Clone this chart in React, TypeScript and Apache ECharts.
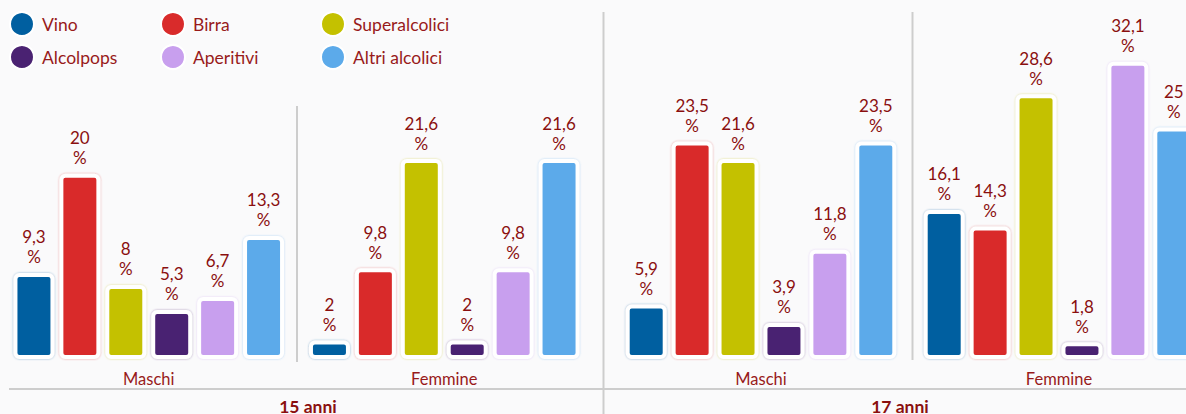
import React, { useEffect, useRef } from "react";
import * as echarts from "echarts";

const seriesNames = ["Vino", "Birra", "Superalcolici", "Alcolpops", "Aperitivi", "Altri alcolici"];
const seriesColors = ["#005fa0", "#d92b2b", "#c4c100", "#4a2272", "#c89fee", "#5caaea"];
const genderCategories = ["Maschi", "Femmine"];
const ageGroups = ["15 anni", "17 anni"];

// values per series: [Maschi, Femmine]
const values15 = [
  [9.3, 2],
  [20, 9.8],
  [8, 21.6],
  [5.3, 2],
  [6.7, 9.8],
  [13.3, 21.6],
];
const values17 = [
  [5.9, 16.1],
  [23.5, 14.3],
  [21.6, 28.6],
  [3.9, 1.8],
  [11.8, 32.1],
  [23.5, 25],
];

const RED = "#981a1a";
const DARK_RED = "#8a0f0f";
const FONT = "Lato, 'Noto Sans', sans-serif";

function hexToRgba(hex: string, a: number) {
  const n = parseInt(hex.slice(1), 16);
  return `rgba(${(n >> 16) & 255},${(n >> 8) & 255},${n & 255},${a})`;
}

export default function App() {
  const ref = useRef<HTMLDivElement>(null);
  useEffect(() => {
    if (!ref.current) return;
    const chart = echarts.init(ref.current, undefined, { renderer: "svg" });

    const legendPos = [
      { left: 9, top: 11 },
      { left: 160, top: 11 },
      { left: 320, top: 11 },
      { left: 9, top: 44 },
      { left: 160, top: 44 },
      { left: 320, top: 44 },
    ];

    const legends = seriesNames.map((name, i) => ({
      data: [name],
      left: legendPos[i].left,
      top: legendPos[i].top,
      icon: "circle",
      itemWidth: 24,
      itemHeight: 24,
      selectedMode: false,
      padding: 0,
      textStyle: { color: RED, fontSize: 17.5, fontFamily: FONT, padding: [0, 0, 0, 3] },
    }));

    const allValues = [values15, values17];
    const series: any[] = [];
    allValues.forEach((vals, gi) => {
      seriesNames.forEach((name, si) => {
        const c = seriesColors[si];
        series.push({
          type: "bar",
          name,
          xAxisIndex: gi,
          yAxisIndex: gi,
          data: vals[si],
          barWidth: 41,
          barGap: "12%",
          itemStyle: {
            color: c,
            borderColor: "#ffffff",
            borderWidth: 4,
            borderRadius: 4,
            shadowColor: hexToRgba(c, 0.45),
            shadowBlur: 2,
          },
          label: {
            show: true,
            position: "top",
            distance: 6,
            color: DARK_RED,
            fontSize: 17,
            lineHeight: 20,
            fontFamily: FONT,
            formatter: (p: any) => String(p.value).replace(".", ",") + "\n%",
          },
        });
      });
    });

    const lineStyle = { stroke: "#cdcdcd", lineWidth: 2 };

    chart.setOption({
      animation: false,
      backgroundColor: "#fafafb",
      legend: legends,
      grid: [
        { left: 1, width: 591, top: 35, bottom: 55 },
        { left: 612, width: 596, top: 35, bottom: 55 },
      ],
      xAxis: [0, 1].map((i) => ({
        type: "category",
        gridIndex: i,
        data: genderCategories,
        axisLine: { show: false },
        axisTick: { show: false },
        axisLabel: { color: RED, fontSize: 16.5, fontFamily: FONT, margin: 11 },
        splitLine: { show: false },
      })),
      yAxis: [0, 1].map((i) => ({
        type: "value",
        gridIndex: i,
        min: 0,
        max: 35,
        show: false,
        splitLine: { show: false },
      })),
      series,
      graphic: [
        { type: "line", shape: { x1: 9, y1: 389, x2: 1208, y2: 389 }, style: lineStyle, silent: true },
        { type: "line", shape: { x1: 603.5, y1: 12, x2: 603.5, y2: 414 }, style: lineStyle, silent: true },
        { type: "line", shape: { x1: 297, y1: 106, x2: 297, y2: 362 }, style: lineStyle, silent: true },
        { type: "line", shape: { x1: 912.5, y1: 12, x2: 912.5, y2: 360 }, style: lineStyle, silent: true },
        {
          type: "text",
          x: 308,
          y: 406,
          style: {
            text: ageGroups[0],
            fill: DARK_RED,
            fontSize: 17.5,
            fontWeight: "bold",
            fontFamily: FONT,
            align: "center",
            verticalAlign: "middle",
          },
        },
        {
          type: "text",
          x: 900,
          y: 406,
          style: {
            text: ageGroups[1],
            fill: DARK_RED,
            fontSize: 17.5,
            fontWeight: "bold",
            fontFamily: FONT,
            align: "center",
            verticalAlign: "middle",
          },
        },
      ],
    });
    return () => chart.dispose();
  }, []);
  return (
    <div
      ref={ref}
      style={{ position: "fixed", left: 0, top: 0, width: 1208, height: 414 }}
    />
  );
}
